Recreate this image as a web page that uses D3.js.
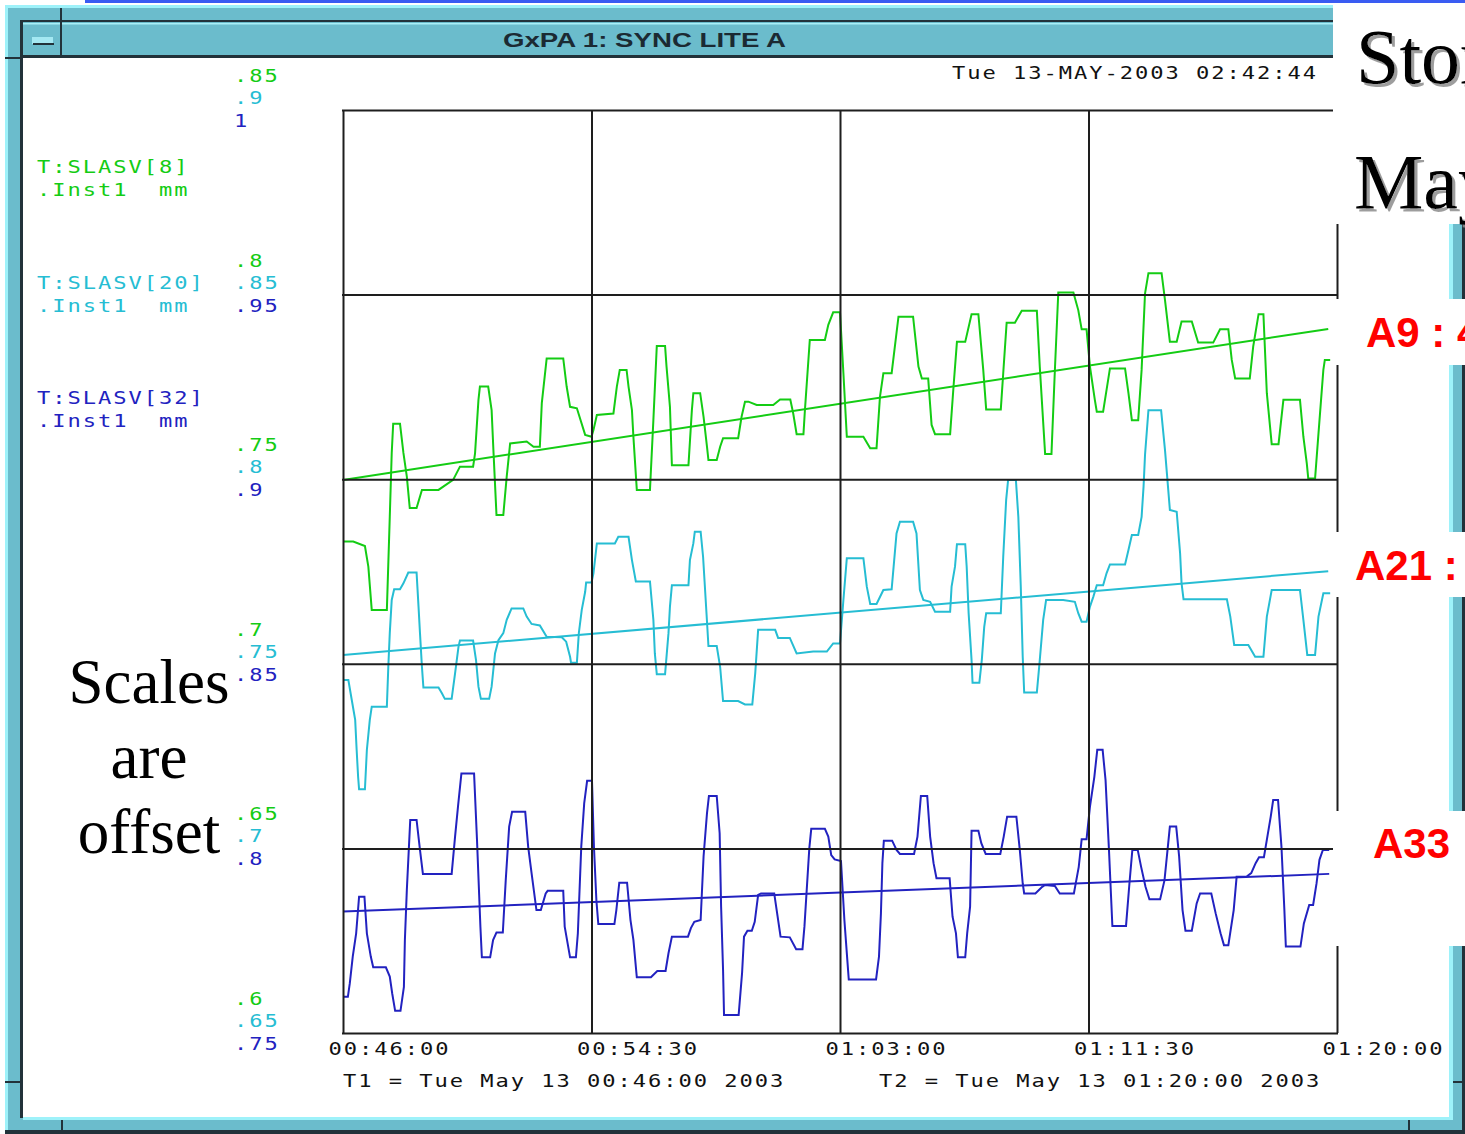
<!DOCTYPE html>
<html>
<head>
<meta charset="utf-8">
<script src="https://cdn.jsdelivr.net/npm/d3@7"></script>
<style>
    html, body { margin: 0; padding: 0; background: #fff; }
    svg { display: block; }
    .mono { font-family: "DejaVu Sans Mono", monospace; font-size: 17px; letter-spacing: 1.5px; white-space: pre; }
</style>
</head>
<body>
<div id="chart"></div>
<script>
// ---- data (seconds after T1, value in mm) ----
const seriesNames = ['T:SLASV[8]', 'T:SLASV[20]', 'T:SLASV[32]'];
const unitLabel = '.Inst1  mm';
const seriesColors = ['#14cc14', '#26bdd3', '#2222c0'];
const seriesDomains = [[0.6, 0.85], [0.65, 0.9], [0.75, 1.0]];
const timeTickSeconds = [0, 510, 1020, 1530, 2040];
const headerStamp = 'Tue 13-MAY-2003 02:42:44';
const t1Label = 'T1 = Tue May 13 00:46:00 2003';
const t2Label = 'T2 = Tue May 13 01:20:00 2003';

const greenSeries = [[0,.7331],[21,.7331],[45,.7319],[52,.7263],[59,.7146],[90,.7146],[96,.7398],[100,.7571],[103,.7650],[117,.7650],[124,.7571],[131,.7507],[137,.7422],[151,.7422],[162,.7471],[196,.7471],[226,.7498],[240,.7534],[267,.7534],[271,.7570],[278,.7715],[281,.7751],[298,.7751],[305,.7687],[309,.7570],[315,.7403],[329,.7403],[336,.7507],[343,.7597],[377,.7602],[391,.7588],[404,.7588],[408,.7706],[418,.7827],[452,.7827],[459,.7751],[466,.7696],[480,.7692],[497,.7620],[510,.7615],[514,.7633],[521,.7674],[555,.7678],[562,.7751],[568,.7796],[582,.7796],[586,.7751],[593,.7687],[596,.7615],[603,.7471],[630,.7471],[637,.7660],[644,.7861],[661,.7861],[664,.7805],[671,.7696],[675,.7538],[709,.7538],[716,.7687],[719,.7733],[733,.7733],[740,.7669],[747,.7588],[750,.7552],[767,.7552],[774,.7588],[780,.7611],[811,.7611],[818,.7669],[825,.7710],[832,.7710],[849,.7701],[883,.7701],[897,.7716],[918,.7716],[924,.7678],[931,.7622],[945,.7622],[948,.7687],[958,.7877],[989,.7877],[996,.7918],[1006,.7952],[1020,.7952],[1027,.7787],[1034,.7615],[1068,.7615],[1082,.7584],[1095,.7584],[1102,.7723],[1109,.7787],[1126,.7787],[1140,.7940],[1170,.7940],[1181,.7805],[1188,.7773],[1201,.7773],[1208,.7647],[1215,.7622],[1246,.7622],[1253,.7751],[1260,.7872],[1277,.7872],[1290,.7947],[1304,.7947],[1314,.7796],[1320,.7689],[1350,.7689],[1355,.7787],[1362,.7924],[1379,.7924],[1393,.7956],[1424,.7956],[1430,.7805],[1441,.7568],[1454,.7568],[1461,.7796],[1468,.8006],[1499,.8006],[1509,.7958],[1516,.7906],[1526,.7906],[1533,.7805],[1543,.7715],[1547,.7683],[1560,.7683],[1574,.7800],[1605,.7800],[1612,.7733],[1619,.7660],[1632,.7660],[1639,.7796],[1646,.8003],[1653,.8058],[1680,.8058],[1687,.7985],[1697,.7872],[1711,.7872],[1721,.7927],[1742,.7927],[1755,.7870],[1786,.7870],[1800,.7906],[1817,.7906],[1824,.7823],[1831,.7773],[1861,.7773],[1868,.7859],[1879,.7947],[1889,.7947],[1896,.7733],[1906,.7595],[1920,.7595],[1930,.7715],[1964,.7715],[1971,.7615],[1978,.7543],[1981,.7502],[1995,.7502],[2002,.7624],[2012,.7796],[2015,.7823],[2026,.7823]];

const cyanSeries = [[0,.7456],[11,.7456],[18,.7402],[25,.7348],[28,.7267],[31,.7194],[33,.7160],[45,.7160],[49,.7267],[55,.7348],[59,.7384],[90,.7384],[93,.7492],[96,.7583],[100,.7673],[105,.7702],[117,.7702],[124,.7718],[134,.7747],[151,.7747],[155,.7655],[158,.7583],[162,.7492],[165,.7436],[196,.7436],[203,.7420],[209,.7405],[223,.7405],[230,.7474],[237,.7546],[240,.7563],[267,.7563],[273,.7510],[278,.7438],[283,.7405],[300,.7405],[305,.7438],[312,.7528],[319,.7564],[329,.7583],[336,.7619],[346,.7650],[370,.7650],[377,.7628],[387,.7608],[404,.7604],[418,.7573],[449,.7572],[458,.7560],[466,.7519],[468,.7503],[480,.7503],[484,.7583],[490,.7646],[497,.7695],[499,.7720],[510,.7720],[514,.7745],[521,.7826],[558,.7826],[565,.7844],[586,.7844],[593,.7781],[601,.7723],[630,.7723],[637,.7619],[640,.7528],[644,.7472],[661,.7472],[668,.7583],[671,.7655],[675,.7713],[709,.7713],[712,.7781],[719,.7826],[722,.7858],[734,.7858],[739,.7790],[746,.7637],[750,.7548],[767,.7548],[774,.7492],[780,.7399],[811,.7399],[825,.7390],[840,.7390],[846,.7474],[852,.7592],[887,.7592],[893,.7570],[917,.7570],[931,.7528],[965,.7533],[993,.7533],[1006,.7555],[1020,.7555],[1027,.7673],[1034,.7786],[1068,.7786],[1075,.7709],[1082,.7662],[1095,.7662],[1109,.7700],[1126,.7702],[1136,.7853],[1143,.7885],[1170,.7885],[1177,.7853],[1184,.7700],[1191,.7673],[1205,.7668],[1215,.7641],[1246,.7641],[1249,.7709],[1256,.7763],[1260,.7824],[1277,.7824],[1280,.7763],[1284,.7637],[1290,.7510],[1292,.7449],[1306,.7449],[1311,.7510],[1316,.7600],[1320,.7637],[1350,.7637],[1355,.7790],[1361,.7944],[1365,.7998],[1381,.7998],[1386,.7898],[1391,.7709],[1395,.7519],[1398,.7422],[1424,.7422],[1430,.7510],[1437,.7619],[1443,.7673],[1478,.7673],[1502,.7668],[1509,.7637],[1516,.7614],[1526,.7614],[1533,.7655],[1540,.7682],[1547,.7713],[1560,.7713],[1567,.7745],[1574,.7769],[1605,.7769],[1612,.7808],[1619,.7849],[1632,.7849],[1639,.7898],[1643,.7980],[1646,.8066],[1653,.8187],[1679,.8187],[1687,.8079],[1692,.7998],[1697,.7917],[1711,.7912],[1718,.7799],[1721,.7718],[1725,.7675],[1814,.7675],[1821,.7628],[1829,.7551],[1858,.7551],[1872,.7519],[1889,.7519],[1896,.7628],[1906,.7700],[1964,.7700],[1971,.7619],[1979,.7524],[1995,.7524],[2002,.7628],[2012,.7691],[2026,.7691]];

const blueSeries = [[0,.7598],[10,.7598],[14,.7635],[20,.7707],[27,.7770],[33,.7869],[44,.7869],[49,.7770],[57,.7707],[62,.7678],[88,.7678],[96,.7653],[101,.7607],[107,.7560],[118,.7560],[125,.7625],[127,.7752],[131,.7887],[138,.8077],[151,.8077],[158,.7996],[164,.7931],[223,.7931],[230,.8032],[236,.8113],[243,.8203],[269,.8203],[275,.8023],[282,.7788],[285,.7705],[302,.7705],[308,.7752],[315,.7772],[328,.7772],[334,.7914],[341,.8059],[347,.8099],[374,.8099],[380,.8005],[387,.7933],[397,.7833],[406,.7833],[416,.7878],[420,.7885],[452,.7885],[455,.7788],[466,.7705],[478,.7705],[482,.7770],[489,.8005],[495,.8122],[501,.8183],[511,.8183],[515,.8005],[520,.7860],[524,.7795],[557,.7795],[561,.7833],[567,.7907],[583,.7907],[590,.7806],[596,.7752],[603,.7651],[632,.7651],[645,.7668],[662,.7668],[668,.7716],[675,.7761],[708,.7761],[714,.7784],[721,.7801],[734,.7806],[740,.7978],[747,.8095],[751,.8142],[767,.8142],[773,.8041],[776,.7842],[780,.7671],[782,.7549],[812,.7549],[819,.7662],[823,.7761],[830,.7777],[839,.7777],[845,.7801],[852,.7874],[858,.7878],[885,.7878],[891,.7824],[898,.7761],[917,.7759],[930,.7727],[943,.7727],[947,.7788],[957,.8000],[961,.8053],[989,.8053],[996,.8032],[1002,.7982],[1009,.7970],[1022,.7966],[1029,.7806],[1035,.7698],[1038,.7645],[1094,.7645],[1100,.7707],[1104,.7824],[1107,.7960],[1110,.8021],[1127,.8021],[1136,.7996],[1143,.7985],[1172,.7985],[1179,.8032],[1186,.8142],[1199,.8142],[1205,.8032],[1212,.7960],[1218,.7919],[1245,.7919],[1251,.7815],[1258,.7770],[1262,.7705],[1277,.7705],[1281,.7770],[1287,.7842],[1290,.8048],[1304,.8048],[1310,.8014],[1319,.7985],[1349,.7985],[1356,.8032],[1363,.8086],[1382,.8086],[1389,.7996],[1395,.7905],[1398,.7878],[1421,.7878],[1435,.7896],[1441,.7901],[1461,.7898],[1471,.7878],[1500,.7878],[1510,.7950],[1516,.8025],[1526,.8025],[1533,.8113],[1542,.8194],[1548,.8267],[1559,.8267],[1565,.8185],[1572,.7996],[1579,.7790],[1607,.7790],[1614,.7905],[1620,.7996],[1631,.7996],[1638,.7950],[1647,.7896],[1655,.7862],[1677,.7862],[1686,.7914],[1697,.8059],[1710,.8059],[1716,.7978],[1723,.7833],[1729,.7777],[1742,.7777],[1752,.7851],[1759,.7878],[1782,.7878],[1791,.7824],[1801,.7770],[1808,.7738],[1817,.7738],[1828,.7833],[1834,.7923],[1854,.7923],[1864,.7933],[1873,.7960],[1880,.7976],[1890,.7976],[1896,.8023],[1904,.8086],[1909,.8131],[1919,.8131],[1926,.8005],[1932,.7833],[1935,.7734],[1965,.7734],[1972,.7797],[1983,.7847],[1991,.7847],[1998,.7905],[2004,.7969],[2011,.7996],[2024,.7996]];

// straight fit lines drawn over each trace
const greenTrend = [[0,.7498],[2022,.7907]];
const cyanTrend = [[0,.7524],[2022,.7751]];
const blueTrend = [[0,.7829],[2024,.7931]];

// slide overlay texts
const scalesNote = ['Scales', 'are', 'offset'];
const sideLabels = ['A9 : 4', 'A21 :', 'A33'];
const slideTitle = ['Stor', 'May'];

// ---- layout ----
const W = 1465, H = 1134;
const plot = { left: 343, top: 110, right: 1337, bottom: 1033 };
const T1 = new Date(2003, 4, 13, 0, 46, 0);
const toDate = s => new Date(T1.getTime() + s * 1000);
const STRETCH = 1.3; // the X11 fixed font is wider than DejaVu Sans Mono

const svg = d3.select('#chart').append('svg')
    .attr('width', W)
    .attr('height', H);

// drop shadow for the slide title words
svg.append('defs').append('filter')
    .attr('id', 'shadow')
    .attr('x', '-10%').attr('y', '-10%').attr('width', '130%').attr('height', '130%')
    .append('feDropShadow')
    .attr('dx', 3).attr('dy', 3).attr('stdDeviation', 0.6)
    .attr('flood-color', '#8c8c8c').attr('flood-opacity', 0.85);

// wide fixed-width text, placed with a transform so it can be stretched
function mono(g, tx, ty, str, color) {
    return g.append('text')
        .attr('class', 'mono')
        .attr('transform', `translate(${tx},${ty}) scale(${STRETCH},1)`)
        .attr('fill', color)
        .text(str);
}

// ---- X11 window frame ----
const dark = '#22323a', teal = '#6bbccc', light = '#9ef2fa';
const frameRects = [
    [85, 0, 1380, 3, '#3a5cf2'],
    [5, 5, 1460, 1129, teal],
    [5, 5, 1460, 3, light],
    [5, 5, 3, 1129, light],
    [20, 20, 1445, 2, dark],
    [20, 23, 1445, 1.5, '#a8eef6'],
    [20, 55, 1445, 3, dark],
    [20, 20, 3, 1098, dark],
    [23, 58, 1426, 1059, '#ffffff'],
    [23, 1117, 1430, 3, light],
    [5, 1130, 1460, 4, dark],
    [1449, 58, 4, 1062, light],
    [1462, 5, 3, 1129, dark],
    [60, 8, 2, 50, dark],
    [5, 57, 15, 2, dark],
    [5, 1081, 15, 2, dark],
    [61, 1120, 2, 10, dark],
    [1408, 1120, 2, 10, dark],
    [1453, 1081, 12, 2, dark],
    [32, 37, 21, 7, '#a4e8f2'],
    [33, 43, 21, 2, dark]
];
svg.append('g').selectAll('rect')
    .data(frameRects)
    .join('rect')
    .attr('x', d => d[0]).attr('y', d => d[1])
    .attr('width', d => d[2]).attr('height', d => d[3])
    .attr('fill', d => d[4]);

svg.append('text')
    .attr('x', 503).attr('y', 47)
    .attr('textLength', 283).attr('lengthAdjust', 'spacingAndGlyphs')
    .style('font-family', '"Liberation Sans Narrow", "Liberation Sans", Arial, sans-serif')
    .style('font-weight', 'bold').style('font-size', '20px')
    .attr('fill', '#1b2a33')
    .text('GxPA 1: SYNC LITE A');

// ---- scales ----
const x = d3.scaleTime([T1, toDate(2040)], [plot.left, plot.right]);
const yScales = seriesDomains.map(dom => d3.scaleLinear(dom, [plot.bottom, plot.top]));
const tickVals = dom => d3.range(6).map(k => dom[0] + k * 0.05);
const fmt = v => {
    const s = d3.format('.2~f')(v);
    return s.startsWith('0') ? s.slice(1) : s;
};

// ---- traces ----
const chart = svg.append('g');
const traces = [[greenSeries, greenTrend], [cyanSeries, cyanTrend], [blueSeries, blueTrend]];
traces.forEach(([series, trend], i) => {
    const line = d3.line()
        .x(d => x(toDate(d[0])))
        .y(d => yScales[i](d[1]));
    chart.append('path')
        .attr('d', line(series))
        .attr('fill', 'none')
        .attr('stroke', seriesColors[i])
        .attr('stroke-width', 2);
    chart.append('path')
        .attr('d', line(trend))
        .attr('fill', 'none')
        .attr('stroke', seriesColors[i])
        .attr('stroke-width', 2);
});

// ---- grid (drawn over the traces like the original) ----
const gridX = svg.append('g')
    .attr('transform', `translate(0,${plot.bottom})`)
    .call(d3.axisBottom(x).tickValues(timeTickSeconds.map(toDate))
        .tickSize(-(plot.bottom - plot.top)).tickFormat(''));
const gridY = svg.append('g')
    .attr('transform', `translate(${plot.left},0)`)
    .call(d3.axisLeft(yScales[0]).tickValues(tickVals(seriesDomains[0]))
        .tickSize(-(plot.right - plot.left)).tickFormat(''));
[gridX, gridY].forEach(g => {
    g.select('.domain').remove();
    g.selectAll('.tick line').attr('stroke', '#1e1e1e').attr('stroke-width', 2);
});
gridY.selectAll('.tick line').attr('x1', -1).attr('x2', plot.right - plot.left + 1);

// ---- time axis labels ----
const axisX = svg.append('g')
    .attr('transform', `translate(0,${plot.bottom})`)
    .call(d3.axisBottom(x).tickValues(timeTickSeconds.map(toDate))
        .tickSize(0).tickFormat(d3.timeFormat('%H:%M:%S')));
axisX.select('.domain').remove();
axisX.attr('font-family', null).attr('font-size', null);
axisX.selectAll('text')
    .attr('class', 'mono')
    .attr('text-anchor', 'start')
    .attr('x', 0).attr('y', 0).attr('dy', 0)
    .attr('transform', `translate(-15,22) scale(${STRETCH},1)`)
    .attr('fill', '#111');

mono(svg, 343, 1087, t1Label, '#111');
mono(svg, 879, 1087, t2Label, '#111');
mono(svg, 952, 79, headerStamp, '#111');

// ---- stacked y labels, one column per trace ----
const yOffsets = [-28, -6, 17];
seriesDomains.forEach((dom, i) => {
    svg.append('g').selectAll('text')
        .data(tickVals(dom))
        .join('text')
        .attr('class', 'mono')
        .attr('transform', v => `translate(234,${yScales[i](v) + yOffsets[i]}) scale(${STRETCH},1)`)
        .attr('fill', seriesColors[i])
        .text(fmt);
});

// ---- trace names ----
const nameBaselines = [173, 289, 404];
seriesNames.forEach((name, i) => {
    mono(svg, 37, nameBaselines[i], name, seriesColors[i]);
    mono(svg, 37, nameBaselines[i] + 23, unitLabel, seriesColors[i]);
});

// ---- slide overlay ----
const overlay = svg.append('g');
[[1333, 3, 132, 221], [1333, 299, 132, 66], [1333, 532, 132, 65], [1333, 811, 132, 135]]
    .forEach(r => overlay.append('rect')
        .attr('x', r[0]).attr('y', r[1]).attr('width', r[2]).attr('height', r[3])
        .attr('fill', '#fff'));

const titlePos = [[1356, 83], [1354, 208]];
overlay.selectAll('text.slide')
    .data(slideTitle)
    .join('text')
    .attr('class', 'slide')
    .attr('x', (d, i) => titlePos[i][0])
    .attr('y', (d, i) => titlePos[i][1])
    .attr('fill', '#000')
    .attr('filter', 'url(#shadow)')
    .style('font-family', '"Liberation Serif", "Times New Roman", serif')
    .style('font-size', '78px')
    .text(d => d);

const sidePos = [[1366, 347], [1355, 580], [1373, 858]];
overlay.selectAll('text.side')
    .data(sideLabels)
    .join('text')
    .attr('class', 'side')
    .attr('x', (d, i) => sidePos[i][0])
    .attr('y', (d, i) => sidePos[i][1])
    .attr('fill', '#ff0000')
    .style('font-family', '"Liberation Sans", Arial, sans-serif')
    .style('font-weight', 'bold').style('font-size', '42px')
    .style('white-space', 'pre')
    .text(d => d);

overlay.selectAll('text.note')
    .data(scalesNote)
    .join('text')
    .attr('class', 'note')
    .attr('x', 149)
    .attr('y', (d, i) => 703 + i * 75)
    .attr('text-anchor', 'middle')
    .attr('fill', '#000')
    .style('font-family', '"Liberation Serif", "Times New Roman", serif')
    .style('font-size', '63px')
    .text(d => d);
</script>
</body>
</html>
